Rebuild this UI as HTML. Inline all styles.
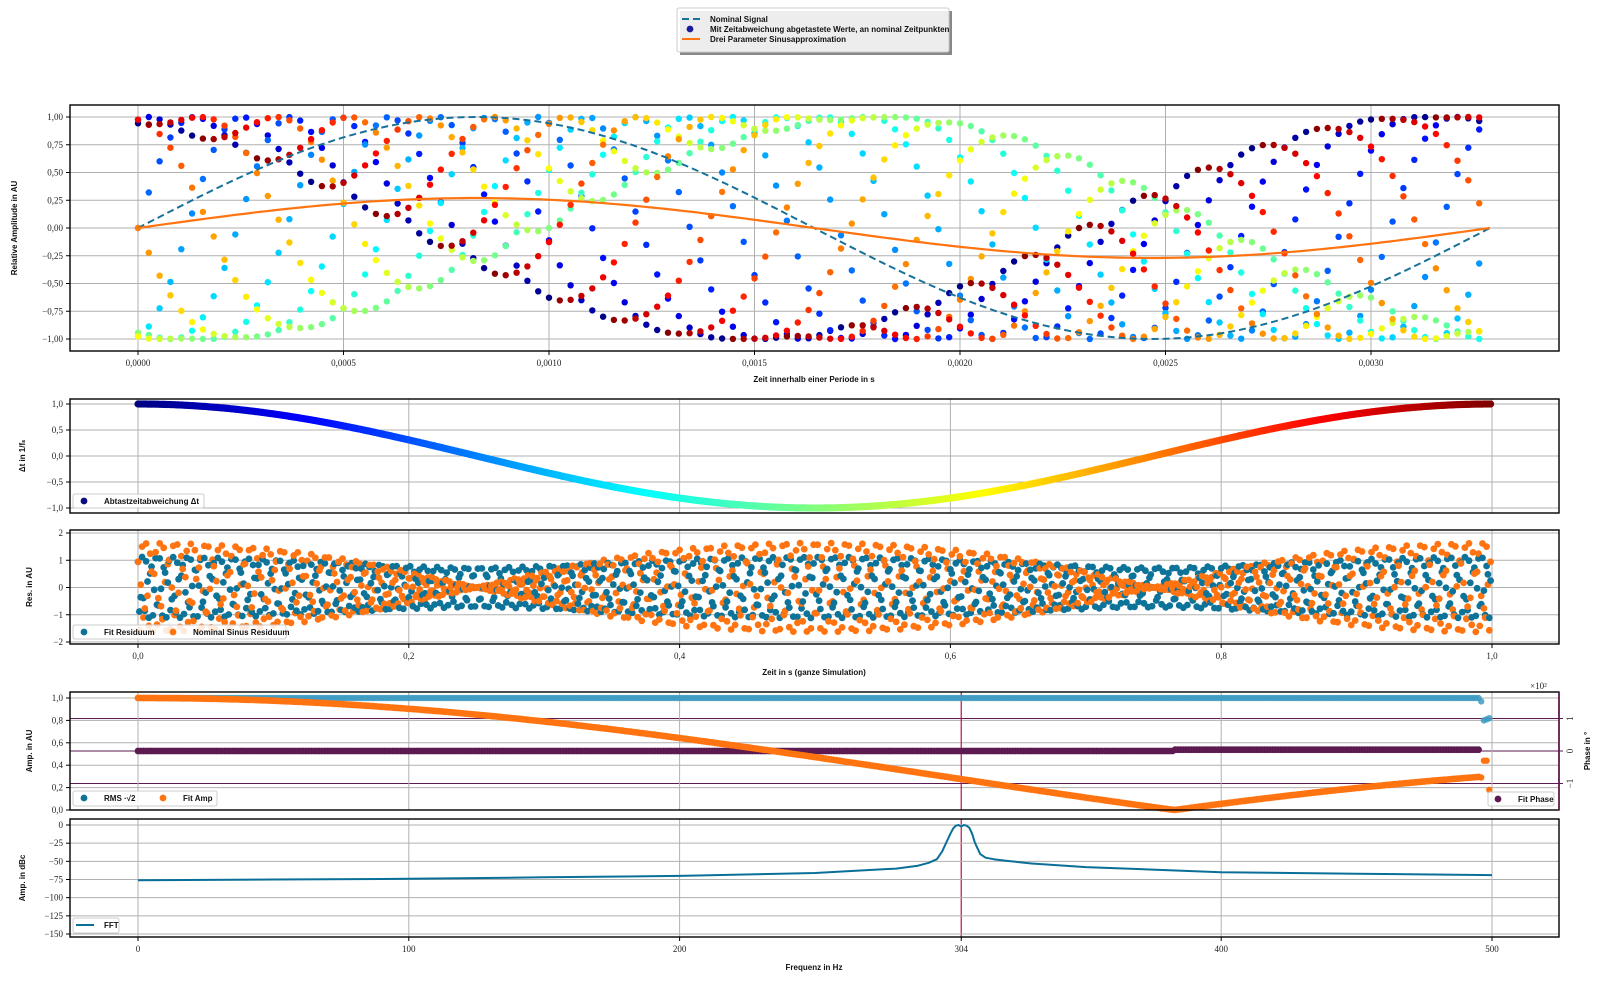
<!DOCTYPE html>
<html><head><meta charset="utf-8"><style>
html,body{margin:0;padding:0;background:#fff}
svg{display:block;font-family:"Liberation Sans",sans-serif}
.tk{font-family:"Liberation Serif",serif;font-size:9px;fill:#222}
.lb{font-size:8px;fill:#111;font-weight:bold}
</style></head><body>
<svg id="c" width="1603" height="982" viewBox="0 0 1603 982" xmlns="http://www.w3.org/2000/svg">
<g id="grid"></g><g id="marks"></g><g id="frame"></g><g id="txt"></g>
</svg>
<script>
// ---- data ----
const sampleRate = [1000];
const signalFreq = [304];
const deviationAmp = [0.001];            // seconds (1/fs)
const fitAmpTop = [0.27];
const fftFreqs = [0,50,100,150,200,250,280,288,292,295,297,299,300,301,302,303,304,305,306,307,308,309,311,313,316,320,330,350,400,450,500];
const fftDb =   [-76,-75,-74,-72,-70,-66,-60,-56,-52,-47,-36,-20,-12,-5,-1,0,-2,0,-1,-4,-12,-24,-40,-45,-47,-49,-53,-58,-65,-67,-69];
const phaseLevel = [0, 0.04];            // x100 deg, before/after amplitude zero
const rmsEdgeFreqs = [496,497,498,499];
const rmsEdgeVals = [0.97,0.8,0.81,0.82];
const fitEdgeVals = [0.29,0.44,0.44,0.18];
const markerFreq = [304];
const xTicks1 = ["0,0000","0,0005","0,0010","0,0015","0,0020","0,0025","0,0030"];
const yTicks1 = ["1,00","0,75","0,50","0,25","0,00","\u22120,25","\u22120,50","\u22120,75","\u22121,00"];
const xTicks3 = ["0,0","0,2","0,4","0,6","0,8","1,0"];
const yTicks2 = ["1,0","0,5","0,0","\u22120,5","\u22121,0"];
const yTicks3 = ["2","1","0","\u22121","\u22122"];
const yTicks4 = ["1,0","0,8","0,6","0,4","0,2","0,0"];
const yTicks5 = ["0","\u221225","\u221250","\u221275","\u2212100","\u2212125","\u2212150"];
const xTicks5 = ["0","100","200","300","400","500"];

const NS="http://www.w3.org/2000/svg";
const G=document.getElementById('grid'),M=document.getElementById('marks'),F=document.getElementById('frame'),T=document.getElementById('txt');
function el(p,tag,a){const e=document.createElementNS(NS,tag);for(const k in a)e.setAttribute(k,a[k]);p.appendChild(e);return e;}
function jet(v){function c(x){return Math.max(0,Math.min(1,x));}
 const r=c(1.5-Math.abs(4*v-3)),g=c(1.5-Math.abs(4*v-2)),b=c(1.5-Math.abs(4*v-1));
 return `rgb(${Math.round(r*255)},${Math.round(g*255)},${Math.round(b*255)})`;}
function J0(x){let s=0,t=1;for(let k=0;k<30;k++){if(k>0)t*=-(x*x/4)/(k*k);s+=t;}return s;}
const L=70,R=1559;
const f=signalFreq[0],fs=sampleRate[0],Tp=1/f;
const x1=t=>138+t*411000, y1=v=>228-v*111;
const x3=t=>138+t*1354, y2=v=>456-v*52, y3=v=>587.5-v*27.25;
const x5=q=>138+q*2.708, y4=v=>810-v*112, y4r=v=>751-v*32.5, y5=d=>825-d*(109/150);

function hgrid(y,top,bot,col){el(G,'line',{x1:L,x2:R,y1:y,y2:y,stroke:col||'#b0b0b0','stroke-width':1});}
function vgrid(x,top,bot,col,w){el(G,'line',{x1:x,x2:x,y1:top,y2:bot,stroke:col||'#b0b0b0','stroke-width':w||1});}
function ytick(y,lab,xr){el(F,'line',{x1:L-4,x2:L,y1:y,y2:y,stroke:'#000'});const t=el(T,'text',{x:(xr||L-7),y:y+3,'text-anchor':'end',class:'tk'});t.textContent=lab;}
function xtick(x,y,lab,col){el(F,'line',{x1:x,x2:x,y1:y,y2:y+4,stroke:'#000'});const t=el(T,'text',{x:x,y:y+15,'text-anchor':'middle',class:'tk'});if(col)t.setAttribute('fill',col);t.textContent=lab;}
function box(top,bot,name){const r=el(F,'rect',{x:L,y:top,width:R-L,height:bot-top,fill:'none',stroke:'#000','stroke-width':1.4});}
function ylab(x,y,s,name,col){const t=el(T,'text',{x:x,y:y,'text-anchor':'middle',class:'lb',transform:`rotate(-90 ${x} ${y})`});if(col)t.setAttribute('fill',col);t.textContent=s;}
function xlab(x,y,s,name){const t=el(T,'text',{x:x,y:y,'text-anchor':'middle',class:'lb'});t.textContent=s;}
function dot(p,x,y,r,c,op){return el(p,'circle',{cx:x.toFixed(1),cy:y.toFixed(1),r:r,fill:c,'fill-opacity':op||1});}

// ---------- Panel 1 ----------
yTicks1.forEach((s,i)=>{const v=1-i*0.25;hgrid(y1(v));ytick(y1(v),s);});
xTicks1.forEach((s,i)=>{const t=i*0.0005;vgrid(x1(t),105,351);xtick(x1(t),351,s);});
const p1=el(M,'g',{});
const samples=[];
for(let n=0;n<fs;n++){const tn=n/fs;const dt=deviationAmp[0]*Math.cos(2*Math.PI*tn);
 const v=Math.sin(2*Math.PI*f*(tn+dt));samples.push({tn,v,dt});}
samples.forEach(s=>{const xp=s.tn%Tp;dot(p1,x1(xp),y1(s.v),3.2,jet(s.tn));});
let dNom='',dFit='';
for(let i=0;i<=200;i++){const t=Tp*i/200;dNom+=(i?'L':'M')+x1(t).toFixed(1)+','+y1(Math.sin(2*Math.PI*f*t)).toFixed(1);
 dFit+=(i?'L':'M')+x1(t).toFixed(1)+','+y1(fitAmpTop[0]*Math.sin(2*Math.PI*f*t)).toFixed(1);}
let e=el(M,'path',{d:dNom,fill:'none',stroke:'#17729a','stroke-width':2,'stroke-dasharray':'7,4'});


e=el(M,'path',{d:dFit,fill:'none',stroke:'#ff7410','stroke-width':2.2});


box(105,351,'amplitude-axes');
ylab(17,228,'Relative Amplitude in AU','y-axis-title-amplitude');
xlab(814,382,'Zeit innerhalb einer Periode in s','x-axis-title-period');

// ---------- Panel 2 ----------
yTicks2.forEach((s,i)=>{const v=1-i*0.5;hgrid(y2(v));ytick(y2(v),s);});
xTicks3.forEach((s,i)=>{vgrid(x3(i*0.2),399,513);vgrid(x3(i*0.2),530,644);});
const p2=el(M,'g',{});
samples.forEach(s=>dot(p2,x3(s.tn),y2(s.dt/deviationAmp[0]*1),3.6,jet(s.tn)));
box(399,513,'deviation-axes');
ylab(25,456,'\u0394t in 1/f\u209B','y-axis-title-deviation');

// ---------- Panel 3 ----------
yTicks3.forEach((s,i)=>{const v=2-i;hgrid(y3(v));ytick(y3(v),s);});
const p3=el(M,'g',{});
samples.forEach(s=>{const ph=2*Math.PI*f*s.tn;
 dot(p3,x3(s.tn),y3(s.v-fitAmpTop[0]*Math.sin(ph)),3.4,'#0d7399');
 dot(p3,x3(s.tn),y3(s.v-Math.sin(ph)),3.4,'#ff7410');});
box(530,644,'residual-axes');
xTicks3.forEach((s,i)=>xtick(x3(i*0.2),644,s));
ylab(32,587,'Res. in AU','y-axis-title-residual');
xlab(814,675,'Zeit in s (ganze Simulation)','x-axis-title-simulation');

// ---------- Panel 4 ----------
yTicks4.forEach((s,i)=>{const v=1-i*0.2;hgrid(y4(v));ytick(y4(v),s);});
[1,0,-1].forEach(v=>{hgrid(y4r(v),0,0,'#5c1a50');});
xTicks5.forEach((s,i)=>{if(i!==3){vgrid(x5(i*100),692,810);vgrid(x5(i*100),819,937);}});
vgrid(x5(markerFreq[0]),692,810,'#c0104a',1.2);vgrid(x5(markerFreq[0]),819,937,'#c0104a',1.2);
const p4=el(M,'g',{});
const zeroF=2.4048/(2*Math.PI*deviationAmp[0]);
for(let q=0;q<=495;q++){dot(p4,x5(q),y4(1),3.2,'#3d9bc2',0.85);}
rmsEdgeFreqs.forEach((q,i)=>dot(p4,x5(q),y4(rmsEdgeVals[i]),3.2,'#3d9bc2',0.85));
for(let q=0;q<=495;q++){dot(p4,x5(q),y4r(q<zeroF?phaseLevel[0]:phaseLevel[1]),3.4,'#5c1a50');}
for(let q=0;q<=495;q++){dot(p4,x5(q),y4(Math.abs(J0(2*Math.PI*q*deviationAmp[0]))),3.4,'#ff7410');}
rmsEdgeFreqs.forEach((q,i)=>dot(p4,x5(q),y4(fitEdgeVals[i]),3.2,'#ff7410'));
box(692,810,'amp-phase-axes');
el(F,'line',{x1:R,x2:R,y1:692,y2:810,stroke:'#5c1a50','stroke-width':1.6});
[1,0,-1].forEach(v=>{el(F,'line',{x1:R,x2:R+4,y1:y4r(v),y2:y4r(v),stroke:'#5c1a50'});
 const t=el(T,'text',{x:1573,y:y4r(v),'text-anchor':'middle',class:'tk',fill:'#5c1a50',transform:`rotate(-90 1573 ${y4r(v)})`});t.textContent=v<0?'\u22121':String(v);});
let t=el(T,'text',{x:1530,y:689,class:'tk',fill:'#5c1a50'});t.textContent='\u00d710\u00b2';
ylab(32,751,'Amp. in AU','y-axis-title-amp');
ylab(1590,751,'Phase in \u00b0','y-axis-title-phase','#5c1a50');

// ---------- Panel 5 ----------
yTicks5.forEach((s,i)=>{const v=-25*i;hgrid(y5(v));ytick(y5(v),s);});
let dF='';fftFreqs.forEach((q,i)=>{dF+=(i?'L':'M')+x5(q).toFixed(1)+','+y5(fftDb[i]).toFixed(1);});
e=el(M,'path',{d:dF,fill:'none',stroke:'#0a6f98','stroke-width':2,'stroke-linejoin':'round'});


box(819,937,'fft-axes');
xTicks5.forEach((s,i)=>{if(i!==3)xtick(x5(i*100),937,s);});
xtick(x5(markerFreq[0]),937,String(markerFreq[0]),'#c0104a');
ylab(25,878,'Amp. in dBc','y-axis-title-dbc');
xlab(814,970,'Frequenz in Hz','x-axis-title-frequency');

// ---------- Legends ----------
function legend(x,y,w,h,items,name){const g=el(T,'g',{});
 el(g,'rect',{x:x,y:y,width:w,height:h,fill:'#fff','fill-opacity':0.85,stroke:'#ccc',rx:2});
 items.forEach(it=>{if(it.line){el(g,'line',{x1:it.x,x2:it.x+18,y1:it.y,y2:it.y,stroke:it.c,'stroke-width':2,'stroke-dasharray':it.dash||''});}
  else dot(g,it.x+8,it.y,3.4,it.c);
  const tt=el(g,'text',{x:it.x+28,y:it.y+3,class:'lb'});tt.textContent=it.s;});}
el(T,'rect',{x:680,y:11,width:272,height:44,fill:'#888'});
legend(677,8,272,44,[{x:682,y:19,c:'#17729a',line:1,dash:'7,4',s:'Nominal Signal'},{x:682,y:29,c:'#1c1c9a',s:'Mit Zeitabweichung abgetastete  Werte, an nominal Zeitpunkten'},{x:682,y:39,c:'#ff7410',line:1,s:'Drei Parameter Sinusapproximation'}],'main-legend');
legend(73,494,131,14,[{x:76,y:501,c:'#0c0c80',s:'Abtastzeitabweichung \u0394t'}],'deviation-legend');
legend(73,625,213,14,[{x:76,y:632,c:'#0d7399',s:'Fit Residuum'},{x:165,y:632,c:'#ff7410',s:'Nominal Sinus Residuum'}],'residual-legend');
legend(73,791,144,15,[{x:76,y:798,c:'#0d7399',s:'RMS \u00b7\u221a2'},{x:155,y:798,c:'#ff7410',s:'Fit Amp'}],'amp-legend');
legend(1488,792,66,14,[{x:1490,y:799,c:'#5c1a50',s:'Fit Phase'}],'phase-legend');
legend(73,918,46,15,[{x:76,y:925,c:'#0a6f98',line:1,s:'FFT'}],'fft-legend');
</script>
</body></html>
